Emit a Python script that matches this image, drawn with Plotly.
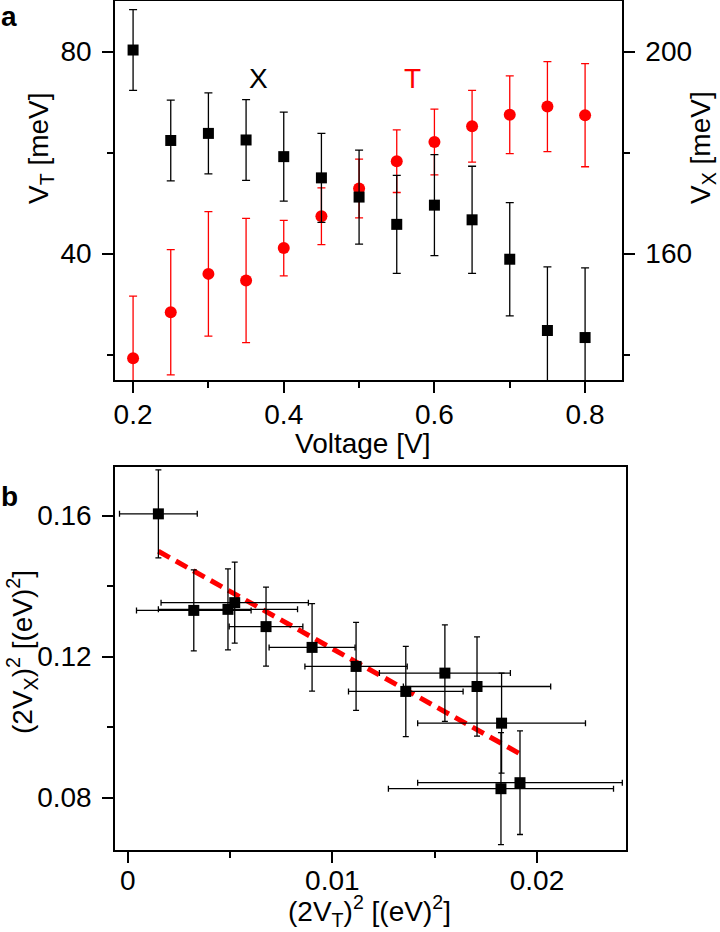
import plotly.graph_objects as go

# ---------- Panel a data ----------
voltage = [0.20, 0.25, 0.30, 0.35, 0.40, 0.45, 0.50, 0.55, 0.60, 0.65, 0.70, 0.75, 0.80]
v_x = [200.3, 182.4, 183.8, 182.5, 179.2, 175.0, 171.2, 165.8, 169.6, 166.7, 158.9, 144.8, 143.4]
v_x_err = [8.0, 8.0, 8.0, 8.0, 8.8, 8.8, 9.3, 9.7, 10.0, 10.6, 11.2, 12.6, 13.8]
v_t = [19.3, 28.4, 36.0, 34.7, 41.1, 47.4, 52.9, 58.3, 62.1, 65.2, 67.5, 69.1, 67.4]
v_t_err = [12.3, 12.4, 12.3, 12.3, 5.5, 5.6, 5.8, 6.2, 6.5, 7.1, 7.7, 8.9, 10.2]

# ---------- Panel b data ----------
vt2 = [0.0015, 0.00323, 0.0049, 0.00523, 0.00676, 0.00901, 0.01116, 0.01359, 0.0155, 0.01707, 0.01827, 0.01824, 0.01917]
vt2_err = [0.0019, 0.0028, 0.0034, 0.0036, 0.0018, 0.0021, 0.0025, 0.0028, 0.0032, 0.0036, 0.0041, 0.0055, 0.0050]
vx2 = [0.1605, 0.1331, 0.1334, 0.1353, 0.1285, 0.1226, 0.1172, 0.1101, 0.1153, 0.1115, 0.1011, 0.0825, 0.0842]
vx2_err = [0.0125, 0.0115, 0.0115, 0.0115, 0.0112, 0.0124, 0.0125, 0.0128, 0.0137, 0.0141, 0.0142, 0.0159, 0.0147]
fit_x = [0.0015, 0.0192]
fit_y = [0.1499, 0.0923]

FONT = "Liberation Sans, Arial, sans-serif"
W, H = 720, 932
RED = "#ff0000"

fig = go.Figure()

# Panel a: T (red circles, left axis)
fig.add_trace(go.Scatter(
    x=voltage, y=v_t, mode="markers", xaxis="x", yaxis="y",
    marker=dict(symbol="circle", size=12, color=RED),
    error_y=dict(type="data", array=v_t_err, color=RED, thickness=1.3, width=4),
    showlegend=False))
# Panel a: X (black squares, right axis)
fig.add_trace(go.Scatter(
    x=voltage, y=v_x, mode="markers", xaxis="x", yaxis="y2",
    marker=dict(symbol="square", size=11, color="black"),
    error_y=dict(type="data", array=v_x_err, color="black", thickness=1.3, width=4),
    showlegend=False))

# Panel b: fit line
fig.add_trace(go.Scatter(
    x=fit_x, y=fit_y, mode="lines", xaxis="x2", yaxis="y3",
    line=dict(color=RED, width=5, dash="13px,7px"),
    showlegend=False))
# Panel b: data
fig.add_trace(go.Scatter(
    x=vt2, y=vx2, mode="markers", xaxis="x2", yaxis="y3",
    marker=dict(symbol="square", size=11, color="black"),
    error_x=dict(type="data", array=vt2_err, color="black", thickness=1.3, width=3),
    error_y=dict(type="data", array=vx2_err, color="black", thickness=1.3, width=3),
    showlegend=False))

tickfont = dict(family=FONT, size=28, color="black")
axcommon = dict(showgrid=False, zeroline=False, showline=True, linecolor="black",
                linewidth=1.5, ticks="outside", tickcolor="black", tickwidth=1.5,
                ticklen=11, tickfont=tickfont, automargin=False)
minor_style = dict(ticks="outside", ticklen=6, tickcolor="black", tickwidth=1.5)

def px(x):
    return x / W

def py(y):
    return 1 - y / H

fig.update_layout(
    width=W, height=H,
    margin=dict(l=0, r=0, t=0, b=0),
    paper_bgcolor="white", plot_bgcolor="white",
    font=dict(family=FONT, color="black"),
    xaxis=dict(domain=[px(115), px(622)], anchor="y", range=[0.176, 0.849],
               tickvals=[0.2, 0.4, 0.6, 0.8], ticktext=["0.2", "0.4", "0.6", "0.8"],
               minor=dict(tickvals=[0.3, 0.5, 0.7], **minor_style),
               ticklabelstandoff=-2, mirror=True, **axcommon),
    yaxis=dict(domain=[py(380), py(1)], anchor="x", range=[15, 90],
               tickvals=[40, 80],
               minor=dict(tickvals=[20, 60], **minor_style),
               ticklabelstandoff=5, **axcommon),
    yaxis2=dict(overlaying="y", anchor="x", side="right", range=[135, 210],
                tickvals=[160, 200],
                minor=dict(tickvals=[140, 180], **minor_style),
                ticklabelstandoff=5, **axcommon),
    xaxis2=dict(domain=[px(115), px(626)], anchor="y3", range=[-0.00062, 0.02435],
                tickvals=[0, 0.01, 0.02], ticktext=["0", "0.01", "0.02"],
                minor=dict(tickvals=[0.005, 0.015], **minor_style),
                ticklabelstandoff=-6, mirror=True, **axcommon),
    yaxis3=dict(domain=[py(850), py(467)], anchor="x2", range=[0.0651, 0.1738],
                tickvals=[0.08, 0.12, 0.16], ticktext=["0.08", "0.12", "0.16"],
                minor=dict(tickvals=[0.10, 0.14], **minor_style),
                ticklabelstandoff=5, mirror=True, **axcommon),
)

title_font = dict(family=FONT, size=28, color="black")
annos = [
    dict(text="V<sub>T</sub> [meV]", x=px(40), y=py(148), textangle=-90),
    dict(text="V<sub>X</sub> [meV]", x=px(702), y=py(148), textangle=-90),
    dict(text="Voltage [V]", x=px(362), y=py(443)),
    dict(text="(2V<sub>X</sub>)<sup>2</sup> [(eV)<sup>2</sup>]", x=px(22), y=py(652), textangle=-90),
    dict(text="(2V<sub>T</sub>)<sup>2</sup> [(eV)<sup>2</sup>]", x=px(370), y=py(911)),
]
for a in annos:
    fig.add_annotation(xref="paper", yref="paper", xanchor="center", yanchor="middle",
                       showarrow=False, font=title_font, **a)

# panel letters
fig.add_annotation(text="<b>a</b>", xref="paper", yref="paper", x=px(9), y=py(17),
                   xanchor="center", yanchor="middle", showarrow=False,
                   font=dict(family=FONT, size=28, color="black"))
fig.add_annotation(text="<b>b</b>", xref="paper", yref="paper", x=px(9), y=py(497),
                   xanchor="center", yanchor="middle", showarrow=False,
                   font=dict(family=FONT, size=28, color="black"))

# curve labels
fig.add_annotation(text="X", xref="x", yref="y", x=0.366, y=74.7, showarrow=False,
                   xanchor="center", yanchor="middle", font=dict(family=FONT, size=28, color="black"))
fig.add_annotation(text="T", xref="x", yref="y", x=0.571, y=74.7, showarrow=False,
                   xanchor="center", yanchor="middle", font=dict(family=FONT, size=28, color=RED))

fig.write_html("out.html",
               config={"displayModeBar": False},
               post_script="document.body.style.margin='0px';document.body.style.overflow='hidden';")
